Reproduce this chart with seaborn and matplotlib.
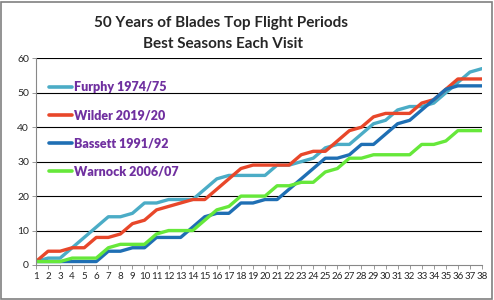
import matplotlib
matplotlib.use("Agg")
import matplotlib.pyplot as plt
import seaborn as sns
import pandas as pd
from matplotlib.patches import Rectangle

games = list(range(1, 39))
furphy = [1, 2, 2, 5, 8, 11, 14, 14, 15, 18, 18, 19, 19, 19, 22, 25, 26, 26, 26, 26,
          29, 29, 30, 31, 34, 35, 35, 38, 41, 42, 45, 46, 46, 47, 50, 53, 56, 57]
wilder = [1, 4, 4, 5, 5, 8, 8, 9, 12, 13, 16, 17, 18, 19, 19, 22, 25, 28, 29, 29,
          29, 29, 32, 33, 33, 36, 39, 40, 43, 44, 44, 44, 47, 48, 51, 54, 54, 54]
bassett = [1, 1, 1, 1, 1, 1, 4, 4, 5, 5, 8, 8, 8, 11, 14, 15, 15, 18, 18, 19,
           19, 22, 25, 28, 31, 31, 32, 35, 35, 38, 41, 42, 45, 48, 51, 52, 52, 52]
warnock = [1, 1, 1, 2, 2, 2, 5, 6, 6, 6, 9, 10, 10, 10, 13, 16, 17, 20, 20, 20,
           23, 23, 24, 24, 27, 28, 31, 31, 32, 32, 32, 32, 35, 35, 36, 39, 39, 39]
series_names = ["Furphy 1974/75", "Wilder 2019/20", "Bassett 1991/92", "Warnock 2006/07"]
series_values = [furphy, wilder, bassett, warnock]
colors = ["#4BACC6", "#E8472A", "#1F6FB4", "#66E83A"]
title_lines = ["50 Years of Blades Top Flight Periods", "Best Seasons Each Visit"]

rows = []
for name, vals in zip(series_names, series_values):
    for g, v in zip(games, vals):
        rows.append({"Game": g, "Points": v, "Season": name})
df = pd.DataFrame(rows)

sns.set_style("white")
plt.rcParams["font.family"] = ["Lato", "DejaVu Sans"]

fig = plt.figure(figsize=(4.94, 3.0), dpi=100)
ax = fig.add_axes([0.0729, 0.1167, 0.9757 - 0.0729, 0.8057 - 0.1167])

sns.lineplot(data=df, x="Game", y="Points", hue="Season", hue_order=series_names,
             palette=colors, linewidth=2.4, ax=ax, legend=True)

ax.set_xlim(1, 38)
ax.set_ylim(0, 60)
ax.set_xticks(games)
ax.set_xticklabels([str(g) for g in games], fontsize=7)
ax.set_yticks(range(0, 61, 10))
ax.set_yticklabels([str(v) for v in range(0, 61, 10)], fontsize=7.5)
ax.set_xlabel("")
ax.set_ylabel("")
for y in range(10, 61, 10):
    ax.axhline(y, color="black", linewidth=0.8, zorder=0)
for s in ["top", "right"]:
    ax.spines[s].set_visible(False)
for s in ["left", "bottom"]:
    ax.spines[s].set_color("#888888")
    ax.spines[s].set_linewidth(0.8)
ax.tick_params(axis="both", which="both", direction="out", length=3, width=0.6,
               color="#888888", pad=2, bottom=True, left=True)

leg = ax.legend(loc="upper left", bbox_to_anchor=(0.005, 0.945), frameon=False,
                labelspacing=1.3, handlelength=1.8, handletextpad=0.2,
                prop={"weight": "heavy", "size": 9})
for t in leg.get_texts():
    t.set_color("#7030A0")
for l in leg.get_lines():
    l.set_linewidth(2.6)

fig.text(0.448, 0.922, title_lines[0], ha="center", va="center",
         fontsize=11, fontweight="bold")
fig.text(0.452, 0.853, title_lines[1], ha="center", va="center",
         fontsize=11, fontweight="bold")

fig.patches.append(Rectangle((0.002, 0.003), 0.994, 0.992, transform=fig.transFigure,
                             fill=False, edgecolor="#808080", linewidth=1.2))

fig.savefig("out.png", dpi=100)
